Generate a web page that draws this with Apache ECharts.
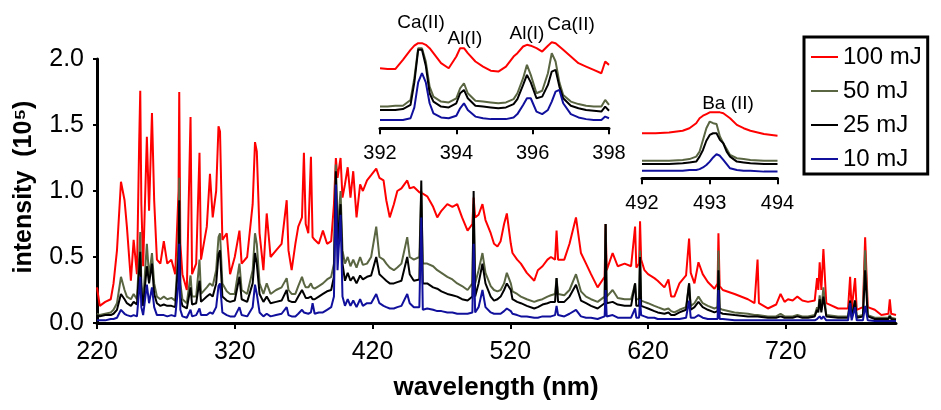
<!DOCTYPE html>
<html>
<head>
<meta charset="utf-8">
<script src="https://cdn.jsdelivr.net/npm/echarts@6/dist/echarts.min.js"></script>
<style>
  html, body { margin: 0; padding: 0; background: #fff; }
  #chart { width: 941px; height: 410px; }
</style>
</head>
<body>
<div id="chart"></div>
<script>
// main spectrum: wavelength (nm) and intensity (10^5) for each pulse energy
const wl = [220, 222, 226, 230, 232, 234.5, 237.4, 240, 241.7, 244.6, 246.6, 249, 250.6, 251.4, 252.2, 253.5, 256.2, 257.8, 259.9, 261.5,
  263.5, 266, 268.5, 271, 274, 276.8, 279.2, 279.7, 280.5, 282, 285.2, 287.9, 289, 292, 294.4, 295.5, 299.7, 302, 304, 306.5,
  308.2, 309.3, 311, 314.2, 316.6, 320, 323.4, 325, 329, 333, 334.7, 336, 338, 340.8, 343.2, 346, 350, 354, 357.7, 359,
  361.3, 364, 366.1, 368.8, 370.2, 371.5, 373.4, 375.3, 376.5, 378, 381, 384, 387, 390, 392, 393.4, 394.6, 396.8, 398.2, 400,
  402, 404, 406, 408.4, 411, 413, 416, 419, 422.7, 425, 428, 430, 432.5, 435.5, 438, 441, 445.2, 447, 450, 454,
  455.4, 456.5, 459.7, 464, 467, 470, 474.3, 478, 481.5, 485, 489, 492.5, 493.4, 494.5, 497, 499.8, 502, 505.8, 508.2, 510.7,
  513, 515.5, 517.5, 520.4, 521.6, 525, 527.7, 532, 537.4, 540, 543.4, 547, 549.5, 552.5, 553.6, 554.7, 559.2, 563, 567.7, 571.3,
  575, 578.6, 583.4, 588.5, 589.2, 590, 594.3, 598, 603, 607.7, 610.6, 611.5, 613.5, 614.2, 615, 617.4, 620, 624.6, 627, 631.9,
  634.8, 636.8, 639.1, 642.8, 647.6, 649.8, 651, 653.7, 656.6, 659.7, 663.4, 668.2, 670.5, 671.1, 672, 674.3, 682.8, 692.5, 697.3, 699.5,
  700.5, 707, 713, 716.2, 719.1, 721.6, 725, 728.4, 732, 736.1, 741, 742.7, 743.6, 744.6, 745.8, 747.3, 749.4, 757.9, 765.2, 766.7,
  767.8, 770.3, 771.5, 776, 777.6, 779.5, 784.6, 789.4, 794.5, 795.5, 796.5, 800];
const mj100 = [0.27, 0.13, 0.16, 0.18, 0.3, 0.55, 1.07, 0.93, 0.73, 0.32, 0.63, 0.37, 1.36, 1.76, 0.9, 0.43, 1.41, 0.85, 1.59, 0.93,
  0.48, 0.45, 0.62, 0.45, 0.48, 0.37, 1.0, 1.75, 0.6, 0.37, 0.25, 1.56, 0.37, 0.45, 1.29, 0.48, 0.73, 1.13, 0.8, 1.0,
  1.49, 1.45, 0.63, 0.68, 0.37, 0.5, 0.7, 0.45, 0.5, 0.9, 1.37, 1.3, 0.68, 0.4, 0.83, 0.5, 0.55, 0.6, 0.93, 0.55,
  0.4, 0.6, 0.73, 0.8, 1.29, 0.75, 0.68, 1.26, 0.65, 0.63, 0.6, 0.7, 0.6, 0.62, 0.9, 1.25, 1.1, 1.25, 0.95, 1.05,
  1.18, 0.95, 1.15, 0.8, 1.05, 1.0, 1.08, 1.12, 1.17, 1.1, 1.08, 0.93, 0.8, 0.9, 1.0, 1.02, 1.08, 1.02, 1.03, 0.99,
  1.0, 0.98, 0.96, 0.88, 0.8, 0.85, 0.9, 0.88, 0.9, 0.8, 0.7, 0.75, 0.95, 0.8, 0.82, 0.9, 0.78, 0.68, 0.6, 0.58,
  0.62, 0.75, 0.83, 0.6, 0.53, 0.48, 0.45, 0.38, 0.32, 0.4, 0.43, 0.48, 0.5, 0.48, 0.7, 0.48, 0.48, 0.6, 0.8, 0.53,
  0.45, 0.37, 0.27, 0.35, 0.75, 0.4, 0.53, 0.43, 0.45, 0.43, 0.73, 0.42, 0.45, 0.77, 0.48, 0.4, 0.37, 0.34, 0.32, 0.27,
  0.33, 0.2, 0.2, 0.3, 0.36, 0.64, 0.38, 0.3, 0.46, 0.37, 0.31, 0.26, 0.3, 0.68, 0.28, 0.25, 0.22, 0.18, 0.15, 0.48,
  0.15, 0.11, 0.14, 0.22, 0.16, 0.18, 0.17, 0.2, 0.17, 0.16, 0.17, 0.34, 0.25, 0.46, 0.25, 0.56, 0.15, 0.11, 0.11, 0.35,
  0.1, 0.34, 0.1, 0.12, 0.65, 0.12, 0.1, 0.06, 0.07, 0.18, 0.07, 0.06];
const mj50 = [0.07, 0.06, 0.07, 0.08, 0.1, 0.15, 0.35, 0.25, 0.2, 0.18, 0.22, 0.18, 0.5, 0.69, 0.3, 0.17, 0.6, 0.35, 0.53, 0.3,
  0.2, 0.18, 0.2, 0.18, 0.19, 0.17, 0.6, 1.1, 0.3, 0.18, 0.15, 0.36, 0.2, 0.2, 0.48, 0.22, 0.27, 0.3, 0.28, 0.4,
  0.65, 0.68, 0.3, 0.24, 0.22, 0.22, 0.45, 0.25, 0.22, 0.4, 0.68, 0.6, 0.3, 0.22, 0.3, 0.22, 0.25, 0.27, 0.34, 0.25,
  0.22, 0.22, 0.28, 0.35, 0.3, 0.27, 0.27, 0.3, 0.27, 0.26, 0.28, 0.3, 0.33, 0.35, 0.45, 1.2, 0.7, 1.0, 0.55, 0.45,
  0.5, 0.43, 0.48, 0.42, 0.5, 0.44, 0.45, 0.5, 0.73, 0.5, 0.48, 0.45, 0.42, 0.4, 0.42, 0.45, 0.65, 0.5, 0.48, 0.5,
  1.0, 0.45, 0.45, 0.43, 0.4, 0.38, 0.35, 0.33, 0.3, 0.28, 0.25, 0.3, 0.9, 0.3, 0.4, 0.53, 0.38, 0.28, 0.25, 0.24,
  0.25, 0.3, 0.38, 0.3, 0.24, 0.22, 0.2, 0.18, 0.16, 0.17, 0.18, 0.2, 0.21, 0.22, 0.34, 0.22, 0.21, 0.25, 0.37, 0.24,
  0.2, 0.18, 0.16, 0.2, 0.75, 0.2, 0.25, 0.19, 0.18, 0.18, 0.3, 0.18, 0.18, 0.55, 0.17, 0.16, 0.15, 0.13, 0.12, 0.1,
  0.11, 0.09, 0.08, 0.1, 0.12, 0.3, 0.13, 0.15, 0.2, 0.15, 0.13, 0.11, 0.12, 0.55, 0.11, 0.1, 0.08, 0.07, 0.06, 0.06,
  0.06, 0.05, 0.05, 0.07, 0.05, 0.05, 0.05, 0.06, 0.05, 0.05, 0.06, 0.12, 0.1, 0.21, 0.1, 0.27, 0.06, 0.05, 0.05, 0.17,
  0.05, 0.17, 0.05, 0.06, 0.55, 0.06, 0.04, 0.04, 0.04, 0.06, 0.04, 0.03];
const mj25 = [0.06, 0.05, 0.06, 0.06, 0.07, 0.1, 0.22, 0.18, 0.15, 0.13, 0.16, 0.14, 0.4, 0.54, 0.25, 0.13, 0.43, 0.3, 0.45, 0.22,
  0.15, 0.13, 0.14, 0.13, 0.13, 0.12, 0.5, 0.93, 0.2, 0.13, 0.11, 0.27, 0.14, 0.15, 0.32, 0.16, 0.2, 0.22, 0.2, 0.3,
  0.52, 0.55, 0.2, 0.17, 0.16, 0.17, 0.35, 0.18, 0.16, 0.3, 0.53, 0.45, 0.22, 0.16, 0.2, 0.15, 0.16, 0.17, 0.25, 0.17,
  0.16, 0.16, 0.2, 0.25, 0.22, 0.19, 0.19, 0.2, 0.18, 0.18, 0.2, 0.22, 0.24, 0.25, 0.35, 1.15, 0.6, 0.9, 0.45, 0.32,
  0.38, 0.32, 0.35, 0.3, 0.36, 0.33, 0.35, 0.36, 0.5, 0.37, 0.34, 0.32, 0.3, 0.3, 0.31, 0.32, 0.5, 0.37, 0.32, 0.33,
  1.08, 0.3, 0.3, 0.27, 0.26, 0.24, 0.22, 0.21, 0.2, 0.18, 0.17, 0.2, 1.0, 0.2, 0.3, 0.45, 0.3, 0.2, 0.17, 0.18,
  0.2, 0.25, 0.3, 0.25, 0.18, 0.16, 0.15, 0.13, 0.11, 0.12, 0.14, 0.15, 0.16, 0.16, 0.34, 0.16, 0.16, 0.2, 0.29, 0.17,
  0.15, 0.13, 0.11, 0.15, 0.75, 0.15, 0.16, 0.14, 0.13, 0.13, 0.3, 0.13, 0.13, 0.5, 0.13, 0.12, 0.11, 0.09, 0.08, 0.07,
  0.08, 0.06, 0.06, 0.08, 0.1, 0.3, 0.1, 0.12, 0.16, 0.12, 0.1, 0.08, 0.09, 0.4, 0.08, 0.07, 0.06, 0.05, 0.05, 0.05,
  0.05, 0.04, 0.04, 0.05, 0.04, 0.04, 0.04, 0.05, 0.04, 0.04, 0.05, 0.1, 0.08, 0.18, 0.08, 0.2, 0.05, 0.04, 0.04, 0.17,
  0.04, 0.17, 0.04, 0.05, 0.4, 0.05, 0.03, 0.03, 0.03, 0.05, 0.03, 0.025];
const mj10 = [0.02, 0.02, 0.02, 0.03, 0.03, 0.04, 0.1, 0.07, 0.06, 0.05, 0.06, 0.05, 0.25, 0.35, 0.12, 0.06, 0.29, 0.15, 0.27, 0.12,
  0.06, 0.06, 0.06, 0.05, 0.06, 0.05, 0.3, 0.6, 0.1, 0.05, 0.04, 0.1, 0.05, 0.06, 0.11, 0.06, 0.06, 0.08, 0.07, 0.12,
  0.28, 0.3, 0.08, 0.06, 0.05, 0.05, 0.12, 0.06, 0.05, 0.12, 0.29, 0.22, 0.08, 0.05, 0.07, 0.05, 0.06, 0.07, 0.12, 0.06,
  0.05, 0.05, 0.07, 0.1, 0.08, 0.07, 0.07, 0.08, 0.15, 0.07, 0.08, 0.08, 0.1, 0.12, 0.2, 1.05, 0.4, 0.82, 0.2, 0.13,
  0.18, 0.13, 0.17, 0.12, 0.18, 0.13, 0.15, 0.15, 0.22, 0.15, 0.13, 0.12, 0.11, 0.11, 0.12, 0.13, 0.22, 0.15, 0.12, 0.12,
  0.8, 0.1, 0.11, 0.1, 0.09, 0.09, 0.08, 0.08, 0.07, 0.07, 0.07, 0.08, 0.6, 0.08, 0.12, 0.25, 0.12, 0.08, 0.07, 0.07,
  0.07, 0.09, 0.11, 0.09, 0.07, 0.06, 0.05, 0.05, 0.04, 0.04, 0.05, 0.05, 0.05, 0.06, 0.13, 0.06, 0.05, 0.07, 0.1, 0.05,
  0.04, 0.04, 0.03, 0.05, 0.25, 0.05, 0.06, 0.04, 0.04, 0.04, 0.11, 0.04, 0.04, 0.18, 0.06, 0.05, 0.04, 0.04, 0.03, 0.03,
  0.03, 0.03, 0.03, 0.03, 0.04, 0.17, 0.04, 0.04, 0.06, 0.04, 0.03, 0.03, 0.03, 0.25, 0.03, 0.03, 0.02, 0.02, 0.02, 0.02,
  0.02, 0.02, 0.02, 0.02, 0.02, 0.02, 0.02, 0.02, 0.02, 0.02, 0.02, 0.03, 0.03, 0.05, 0.03, 0.05, 0.02, 0.02, 0.02, 0.15,
  0.02, 0.12, 0.02, 0.02, 0.13, 0.02, 0.015, 0.015, 0.015, 0.015, 0.015, 0.015];

// inset: Ca(II) / Al(I) region, relative units
const caWl = [392.0, 392.2, 392.4, 392.6, 392.8, 392.9, 393.0, 393.1, 393.2, 393.3, 393.4, 393.6, 393.8, 394.0, 394.1, 394.2, 394.3, 394.5, 394.7, 394.9,
  395.1, 395.3, 395.5, 395.6, 395.75, 395.85, 395.95, 396.1, 396.25, 396.4, 396.5, 396.6, 396.7, 396.8, 397.0, 397.2, 397.4, 397.6, 397.8, 397.9, 398.0];
const ca100 = [0.72, 0.71, 0.71, 0.82, 0.94, 0.99, 1.02, 1.02, 1.0, 0.96, 0.9, 0.78, 0.72, 0.86, 0.96, 0.96, 0.9, 0.8, 0.74, 0.69,
  0.68, 0.74, 0.86, 0.9, 0.98, 1.0, 0.99, 0.96, 0.92, 0.99, 1.03, 1.02, 0.98, 0.94, 0.86, 0.78, 0.74, 0.7, 0.66, 0.8, 0.76];
const ca50 = [0.26, 0.26, 0.27, 0.27, 0.34, 0.6, 0.96, 0.96, 0.8, 0.5, 0.38, 0.32, 0.31, 0.36, 0.48, 0.54, 0.42, 0.33, 0.32, 0.31,
  0.3, 0.31, 0.35, 0.42, 0.6, 0.76, 0.64, 0.42, 0.45, 0.66, 0.9, 0.8, 0.55, 0.4, 0.32, 0.29, 0.27, 0.26, 0.26, 0.34, 0.28];
const ca25 = [0.22, 0.22, 0.22, 0.23, 0.28, 0.55, 0.94, 0.94, 0.75, 0.42, 0.32, 0.26, 0.25, 0.3, 0.42, 0.46, 0.36, 0.27, 0.26, 0.25,
  0.24, 0.25, 0.29, 0.35, 0.52, 0.64, 0.55, 0.36, 0.38, 0.52, 0.68, 0.7, 0.5, 0.36, 0.27, 0.24, 0.22, 0.21, 0.2, 0.26, 0.21];
const ca10 = [0.1, 0.1, 0.1, 0.1, 0.12, 0.25, 0.55, 0.66, 0.55, 0.3, 0.18, 0.13, 0.12, 0.15, 0.24, 0.3, 0.22, 0.14, 0.12, 0.11,
  0.11, 0.11, 0.13, 0.17, 0.28, 0.36, 0.36, 0.2, 0.17, 0.22, 0.32, 0.44, 0.46, 0.3, 0.17, 0.13, 0.11, 0.1, 0.1, 0.14, 0.12];

// inset: Ba(II) region, relative units
const baWl = [492.0, 492.2, 492.4, 492.6, 492.7, 492.8, 492.85, 492.9, 492.95, 493.0, 493.05, 493.1, 493.15, 493.2, 493.25, 493.3, 493.4, 493.5, 493.6, 493.8, 494.0];
const ba100 = [0.54, 0.54, 0.55, 0.57, 0.6, 0.66, 0.72, 0.75, 0.77, 0.79, 0.79, 0.79, 0.79, 0.78, 0.75, 0.72, 0.64, 0.6, 0.57, 0.53, 0.51];
const ba50 = [0.21, 0.21, 0.21, 0.22, 0.23, 0.26, 0.32, 0.46, 0.6, 0.68, 0.66, 0.65, 0.5, 0.42, 0.35, 0.28, 0.24, 0.23, 0.22, 0.21, 0.21];
const ba25 = [0.17, 0.17, 0.17, 0.18, 0.19, 0.2, 0.26, 0.34, 0.45, 0.52, 0.54, 0.54, 0.46, 0.42, 0.32, 0.26, 0.2, 0.19, 0.18, 0.17, 0.17];
const ba10 = [0.09, 0.09, 0.09, 0.09, 0.1, 0.1, 0.11, 0.13, 0.16, 0.2, 0.25, 0.29, 0.27, 0.22, 0.17, 0.12, 0.1, 0.09, 0.09, 0.08, 0.08];

const names = ['100 mJ', '50 mJ', '25 mJ', '10 mJ'];
const colors = ['#ff0000', '#5a6542', '#000000', '#10109c'];
const xTicks = [220, 320, 420, 520, 620, 720];

const FONT = 'Liberation Sans, Arial, sans-serif';

function pairs(xs, ys) {
  return xs.map((x, i) => [x, ys[i]]);
}

function lineSeries(name, idx, xs, ys, axisIdx, width) {
  return {
    name: name,
    type: 'line',
    xAxisIndex: axisIdx,
    yAxisIndex: axisIdx,
    data: pairs(xs, ys),
    showSymbol: false,
    symbol: 'none',
    silent: true,
    animation: false,
    lineStyle: { color: colors[idx], width: width },
    itemStyle: { color: colors[idx] }
  };
}

const chart = echarts.init(document.getElementById('chart'));

const insetAxis = (min, max, interval) => ({
  type: 'value',
  min: min,
  max: max,
  interval: interval,
  axisLine: { lineStyle: { color: '#000', width: 3 } },
  axisTick: { length: 6, lineStyle: { color: '#000', width: 2 } },
  splitLine: { show: false },
  axisLabel: { color: '#000', fontSize: 20, fontFamily: FONT, margin: 15 }
});

const hiddenY = {
  type: 'value', min: 0, max: 1.1, show: false, splitLine: { show: false }
};

const mainSeries = [mj100, mj50, mj25, mj10].map((ys, i) => lineSeries(names[i], i, wl, ys, 0, 2));
const caSeries = [ca100, ca50, ca25, ca10].map((ys, i) => lineSeries(names[i], i, caWl, ys, 1, 2));
const baSeries = [ba100, ba50, ba25, ba10].map((ys, i) => lineSeries(names[i], i, baWl, ys, 2, 2));

chart.setOption({
  backgroundColor: '#fff',
  animation: false,
  grid: [
    { left: 97, right: 45, top: 59, bottom: 87 },
    { left: 380, width: 229, top: 36.5, height: 91.8 },
    { left: 642, width: 135.5, top: 86.5, height: 91.8 }
  ],
  legend: {
    orient: 'vertical',
    left: 804,
    top: 37,
    data: names.map(n => ({ name: n, icon: 'rect' })),
    itemWidth: 27,
    itemHeight: 2,
    itemGap: 10,
    padding: [8, 6, 3, 7],
    borderColor: '#000',
    borderWidth: 3,
    backgroundColor: '#fff',
    selectedMode: false,
    textStyle: { fontSize: 24, color: '#000', fontFamily: FONT }
  },
  xAxis: [
    {
      type: 'value',
      gridIndex: 0,
      min: 220,
      max: 800,
      interval: 100,
      axisLine: { onZero: false, lineStyle: { color: '#000', width: 3 } },
      axisTick: { customValues: xTicks, length: 6, lineStyle: { color: '#000', width: 2 } },
      splitLine: { show: false },
      axisLabel: { customValues: xTicks, color: '#000', fontSize: 25, fontFamily: FONT, margin: 17 }
    },
    Object.assign({ gridIndex: 1 }, insetAxis(392, 398, 2)),
    Object.assign({ gridIndex: 2 }, insetAxis(492, 494, 1))
  ],
  yAxis: [
    {
      type: 'value',
      gridIndex: 0,
      min: 0,
      max: 2,
      interval: 0.5,
      axisLine: { show: true, lineStyle: { color: '#000', width: 3 } },
      axisTick: { show: true, length: 4, lineStyle: { color: '#000', width: 2 } },
      splitLine: { show: false },
      axisLabel: {
        color: '#000', fontSize: 25, fontFamily: FONT, margin: 13,
        formatter: v => v.toFixed(1)
      }
    },
    Object.assign({ gridIndex: 1 }, hiddenY),
    Object.assign({ gridIndex: 2 }, hiddenY)
  ],
  graphic: [
    {
      type: 'text', x: 24, y: 187, rotation: Math.PI / 2,
      style: { text: 'intensity  (10⁵)', font: 'bold 25px ' + FONT, fill: '#000', align: 'center', verticalAlign: 'middle' }
    },
    {
      type: 'text', x: 496, y: 388,
      style: { text: 'wavelength (nm)', font: 'bold 26px ' + FONT, fill: '#000', align: 'center', verticalAlign: 'middle' }
    },
    { type: 'text', x: 421, y: 23, style: { text: 'Ca(II)', font: '19px ' + FONT, fill: '#000', align: 'center', verticalAlign: 'middle' } },
    { type: 'text', x: 465, y: 39, style: { text: 'Al(I)', font: '19px ' + FONT, fill: '#000', align: 'center', verticalAlign: 'middle' } },
    { type: 'text', x: 527, y: 34, style: { text: 'Al(I)', font: '19px ' + FONT, fill: '#000', align: 'center', verticalAlign: 'middle' } },
    { type: 'text', x: 571, y: 25, style: { text: 'Ca(II)', font: '19px ' + FONT, fill: '#000', align: 'center', verticalAlign: 'middle' } },
    { type: 'text', x: 728, y: 104, style: { text: 'Ba (II)', font: '19px ' + FONT, fill: '#000', align: 'center', verticalAlign: 'middle' } }
  ],
  series: mainSeries.concat(caSeries, baSeries)
});
</script>
</body>
</html>
